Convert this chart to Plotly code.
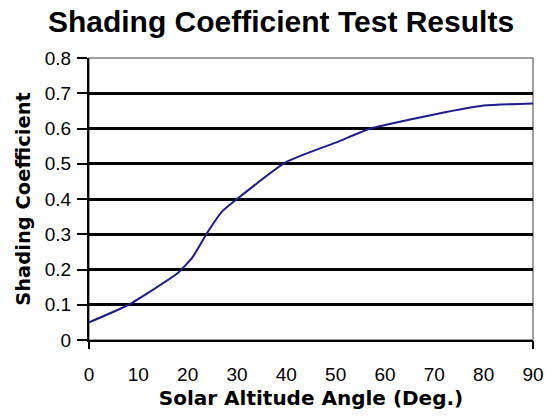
import plotly.graph_objects as go

angles = [0, 8, 18, 21, 24, 27, 30, 40, 50, 57, 60, 70, 80, 90]
coeff = [0.05, 0.10, 0.19, 0.235, 0.305, 0.365, 0.40, 0.505, 0.56, 0.60, 0.61, 0.64, 0.665, 0.671]
x_ticks = list(range(0, 91, 10))
y_ticks = [0, 0.1, 0.2, 0.3, 0.4, 0.5, 0.6, 0.7, 0.8]
y_labels = ["0", "0.1", "0.2", "0.3", "0.4", "0.5", "0.6", "0.7", "0.8"]

W, H = 551, 417

fig = go.Figure()
fig.add_trace(go.Scatter(x=angles, y=coeff, mode="lines",
                         line=dict(color="#1c1c8a", width=2, shape="spline", smoothing=0.5),
                         showlegend=False, hoverinfo="skip"))
fig.add_trace(go.Scatter(x=[0, 90], y=[0, 0], xaxis="x2", mode="lines",
                         line=dict(width=0), showlegend=False, hoverinfo="skip", opacity=0))

lib = "Liberation Sans, Arial, sans-serif"
dv = "DejaVu Sans, Verdana, sans-serif"
fig.update_layout(
    width=W, height=H,
    margin=dict(l=89, r=18, t=58, b=77),
    paper_bgcolor="white", plot_bgcolor="white",
    title=dict(text="<b>Shading Coefficient Test Results</b>", x=281 / W, xanchor="center",
               xref="container", yref="container",
               y=1 - 21 / H, yanchor="middle",
               font=dict(family=lib, size=30, color="black")),
    xaxis=dict(range=[0, 90], tickvals=x_ticks, ticktext=[str(v) for v in x_ticks],
               showgrid=False, zeroline=False, showline=True, linecolor="black", linewidth=2,
               ticks="", ticklabelstandoff=16, automargin=False, ticklabeloverflow="allow",
               tickfont=dict(family=lib, size=19, color="black"),
               title=dict(text="<b>Solar Altitude Angle (Deg.)</b>", standoff=7,
                          font=dict(family=dv, size=20, color="black"))),
    xaxis2=dict(range=[0, 90], overlaying="x", side="bottom", tickvals=[0, 90],
                showticklabels=False, ticks="outside", ticklen=8, tickwidth=1.5, tickcolor="black",
                showgrid=False, zeroline=False, showline=False, automargin=False),
    yaxis=dict(range=[0, 0.8], tickvals=y_ticks, ticktext=y_labels,
               showgrid=True, gridcolor="black", gridwidth=3,
               zeroline=False, showline=True, linecolor="black", linewidth=2,
               ticks="outside", ticklen=10, tickwidth=2, tickcolor="black",
               ticklabelstandoff=2, automargin=False,
               tickfont=dict(family=lib, size=19, color="black"),
               title=dict(text="<b>Shading Coefficient</b>", standoff=9,
                          font=dict(family=dv, size=19.5, color="black"))),
    shapes=[dict(type="rect", xref="paper", yref="paper", x0=0, y0=0, x1=1, y1=1,
                 line=dict(color="#808080", width=1.5), layer="below")],
)

fig.write_html("out.html", config={"displayModeBar": False},
               post_script="document.body.style.margin='0';document.body.style.overflow='hidden';")
